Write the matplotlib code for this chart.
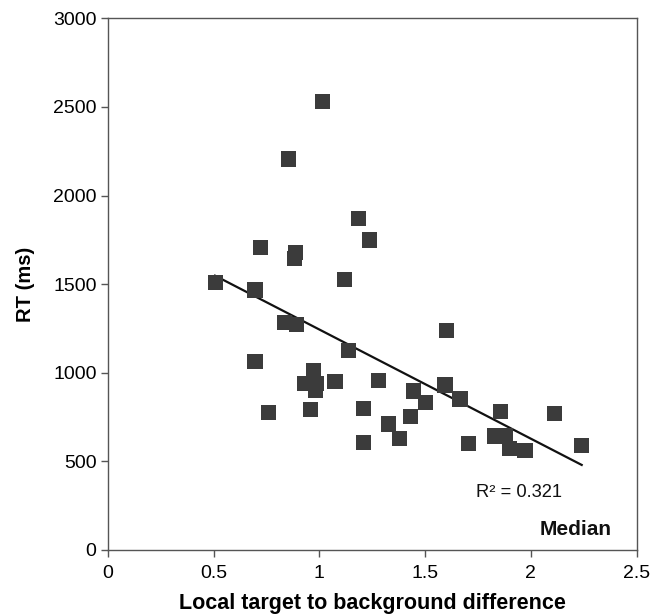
import matplotlib
matplotlib.use("Agg")
import matplotlib.pyplot as plt
import numpy as np

plt.rcParams['font.family'] = ['Liberation Sans', 'DejaVu Sans']

# Data
contrast = [0.510, 0.696, 0.720, 0.696, 0.762, 0.835, 0.853, 0.882, 0.888, 0.893,
            0.932, 0.959, 0.972, 0.988, 0.980, 1.016, 1.074, 1.121, 1.137, 1.184,
            1.208, 1.208, 1.236, 1.279, 1.326, 1.381, 1.429, 1.444, 1.500, 1.594,
            1.602, 1.665, 1.704, 1.830, 1.857, 1.878, 1.898, 1.972, 2.111, 2.240]
rt_ms = [1508, 1467, 1706, 1062, 777, 1283, 2206, 1646, 1680, 1270,
         937, 794, 1012, 941, 899, 2530, 950, 1527, 1128, 1868,
         796, 608, 1749, 954, 711, 630, 752, 897, 831, 931,
         1237, 852, 602, 643, 780, 643, 574, 559, 771, 588]

trend_x = [0.507, 2.240]
trend_y = [1548, 480]

x_ticks = [0, 0.5, 1, 1.5, 2, 2.5]
x_tick_labels = ['0', '0.5', '1', '1.5', '2', '2.5']
y_ticks = [0, 500, 1000, 1500, 2000, 2500, 3000]
y_tick_labels = ['0', '500', '1000', '1500', '2000', '2500', '3000']

fig = plt.figure(figsize=(6.64, 6.15), dpi=100)
ax = fig.add_axes([0.1622, 0.1057, 0.9589 - 0.1622, 0.9702 - 0.1057])

ax.plot(trend_x, trend_y, color='#111111', lw=1.6, zorder=2)
ax.scatter(contrast, rt_ms, marker='s', s=118, color='#3b3b3b', edgecolors='none', zorder=3)

ax.set_xlim(0, 2.5)
ax.set_ylim(0, 3000)
ax.set_xticks(x_ticks)
ax.set_xticklabels(x_tick_labels)
ax.set_yticks(y_ticks)
ax.set_yticklabels(y_tick_labels)
ax.tick_params(axis='both', direction='out', length=5, width=1.0, color='#555555',
               labelsize=14)
ax.tick_params(axis='x', pad=6)
ax.tick_params(axis='y', pad=3)

for sp in ax.spines.values():
    sp.set_color('#555555')
    sp.set_linewidth(1.0)

ax.set_xlabel('Local target to background difference', fontsize=15.5, fontweight='bold', labelpad=8)
ax.set_ylabel('RT (ms)', fontsize=14.5, fontweight='bold', labelpad=13)

ax.text(1.945, 323, 'R² = 0.321', fontsize=13.2, ha='center', va='center', color='#111111')
ax.text(2.382, 113, 'Median', fontsize=15, fontweight='bold', ha='right', va='center', color='#111111')

fig.savefig('out.png', dpi=100)
